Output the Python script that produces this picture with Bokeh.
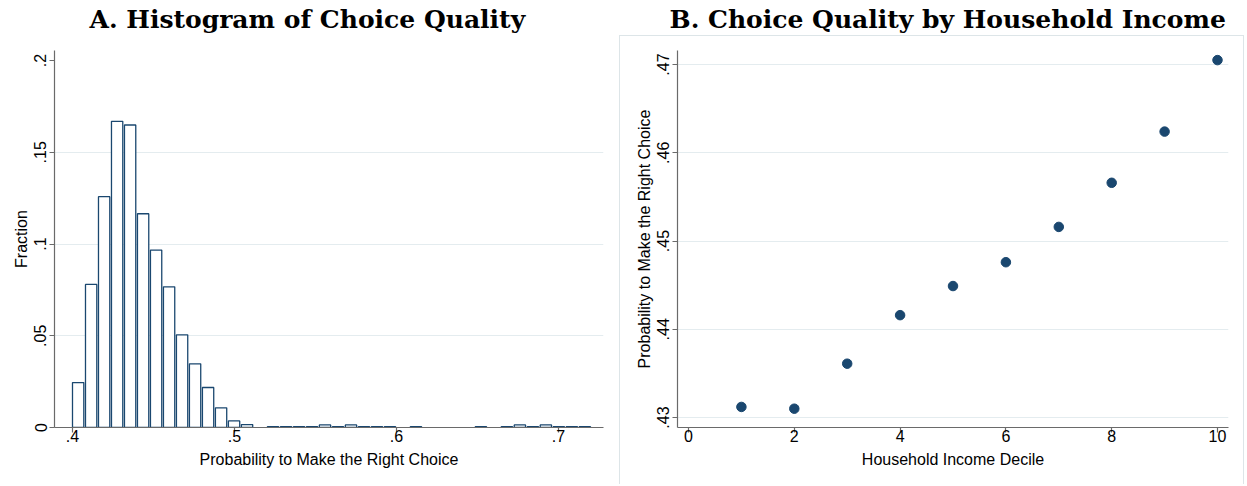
from bokeh.plotting import figure
from bokeh.layouts import row
from bokeh.models import FixedTicker, Range1d, ColumnDataSource, Title
from bokeh.embed import file_html
from bokeh.resources import INLINE

# ---------------- Panel A: histogram data ----------------
bin_start = 0.40
bin_width = 0.00802
fractions = [0.0245, 0.0780, 0.1258, 0.1669, 0.1649, 0.1165, 0.0967, 0.0767, 0.0505, 0.0347,
             0.0218, 0.0107, 0.0036, 0.0016, 0.0, 0.0004, 0.0004, 0.0004, 0.0004, 0.0014,
             0.0004, 0.0014, 0.0004, 0.0004, 0.0004, 0.0, 0.0004, 0.0, 0.0, 0.0,
             0.0, 0.0004, 0.0, 0.0004, 0.0014, 0.0004, 0.0014, 0.0004, 0.0004, 0.0004]
hist_xticks = [0.4, 0.5, 0.6, 0.7]
hist_xlabels = [".4", ".5", ".6", ".7"]
hist_yticks = [0, 0.05, 0.1, 0.15, 0.2]
hist_ylabels = ["0", ".05", ".1", ".15", ".2"]
hist_ygrid = [0.05, 0.1, 0.15]

# ---------------- Panel B: scatter data ----------------
deciles = [1, 2, 3, 4, 5, 6, 7, 8, 9, 10]
choice_prob = [0.4312, 0.4310, 0.4361, 0.4416, 0.4449, 0.4476, 0.4516, 0.4566, 0.4624, 0.4705]
dec_xticks = [0, 2, 4, 6, 8, 10]
dec_xlabels = ["0", "2", "4", "6", "8", "10"]
prob_yticks = [0.43, 0.44, 0.45, 0.46, 0.47]
prob_ylabels = [".43", ".44", ".45", ".46", ".47"]

NAVY = "#1a476f"
GRID = "#e4ecef"
AXIS = "#6a6a6a"
BOX = "#dde5e8"
H = 484


def style(p, xticks, xlabels, yticks, ylabels, ygrid, xlab, ylab):
    p.outline_line_color = None
    p.xgrid.visible = False
    p.ygrid.ticker = FixedTicker(ticks=ygrid)
    p.ygrid.grid_line_color = GRID
    p.ygrid.grid_line_width = 1
    p.xaxis.ticker = FixedTicker(ticks=xticks)
    p.xaxis.major_label_overrides = {t: l for t, l in zip(xticks, xlabels)}
    p.yaxis.ticker = FixedTicker(ticks=yticks)
    p.yaxis.major_label_overrides = {t: l for t, l in zip(yticks, ylabels)}
    p.xaxis.axis_label = xlab
    p.yaxis.axis_label = ylab
    for ax in p.xaxis + p.yaxis:
        ax.axis_line_color = AXIS
        ax.axis_line_width = 1.2
        ax.major_tick_line_color = AXIS
        ax.major_tick_line_width = 1.2
        ax.major_tick_out = 5
        ax.major_tick_in = 0
        ax.minor_tick_line_color = None
        ax.major_label_text_font = "Liberation Sans"
        ax.major_label_text_font_size = "16px"
        ax.major_label_text_color = "black"
        ax.axis_label_text_font = "Liberation Sans"
        ax.axis_label_text_font_size = "16px"
        ax.axis_label_text_font_style = "normal"
        ax.axis_label_text_color = "black"
    p.xaxis.major_label_standoff = -3
    p.xaxis.axis_label_standoff = 6
    p.yaxis.major_label_standoff = 3
    p.yaxis.axis_label_standoff = 2
    p.yaxis.major_label_orientation = "vertical"


def title_style(p, text, offset):
    p.title.text = text
    p.title.text_font = "DejaVu Serif"
    p.title.text_font_size = "25px"
    p.title.text_font_style = "bold"
    p.title.text_color = "black"
    p.title.align = "left"
    p.title.offset = offset
    p.title.standoff = 0
    # invisible spacer between title and plot frame
    p.add_layout(Title(text=" ", text_font_size="10px", standoff=4), "above")


# ---------------- Panel A ----------------
edges = [bin_start + i * bin_width for i in range(len(fractions))]
keep = [i for i, f in enumerate(fractions) if f > 0]
src_a = ColumnDataSource(dict(
    left=[edges[i] for i in keep],
    right=[edges[i] + 0.87 * bin_width for i in keep],
    top=[fractions[i] for i in keep],
    bottom=[0.0 for _ in keep],
))

pa = figure(width=619, height=H, x_range=Range1d(0.38889, 0.72778), y_range=Range1d(0.0, 0.2055),
            output_backend="svg", toolbar_location=None,
            min_border_left=54, min_border_right=16, min_border_top=50, min_border_bottom=57)
pa.quad(left="left", right="right", top="top", bottom="bottom", source=src_a,
        fill_color="white", line_color=NAVY, line_width=1.3)
style(pa, hist_xticks, hist_xlabels, hist_yticks, hist_ylabels, hist_ygrid,
      "Probability to Make the Right Choice", "Fraction")
title_style(pa, "A. Histogram of Choice Quality", 35)

# ---------------- Panel B ----------------
box_css = (
    f"linear-gradient({BOX},{BOX}) 0px 35px / 625px 1px no-repeat, "
    f"linear-gradient({BOX},{BOX}) 0px 35px / 1px 100% no-repeat, "
    f"linear-gradient({BOX},{BOX}) 624px 35px / 1px 100% no-repeat"
)
pb = figure(width=626, height=H, x_range=Range1d(-0.208, 10.208), y_range=Range1d(0.42887, 0.47159),
            output_backend="svg", toolbar_location=None,
            min_border_left=58, min_border_right=17, min_border_top=50, min_border_bottom=57,
            styles={"background": box_css})
pb.border_fill_color = None
pb.scatter(deciles, choice_prob, size=9.5, fill_color=NAVY, line_color=NAVY)
style(pb, dec_xticks, dec_xlabels, prob_yticks, prob_ylabels, prob_yticks,
      "Household Income Decile", "Probability to Make the Right Choice")
title_style(pb, "B. Choice Quality by Household Income", -8)

layout = row(pa, pb)
open("out.html", "w").write(file_html(layout, INLINE))
